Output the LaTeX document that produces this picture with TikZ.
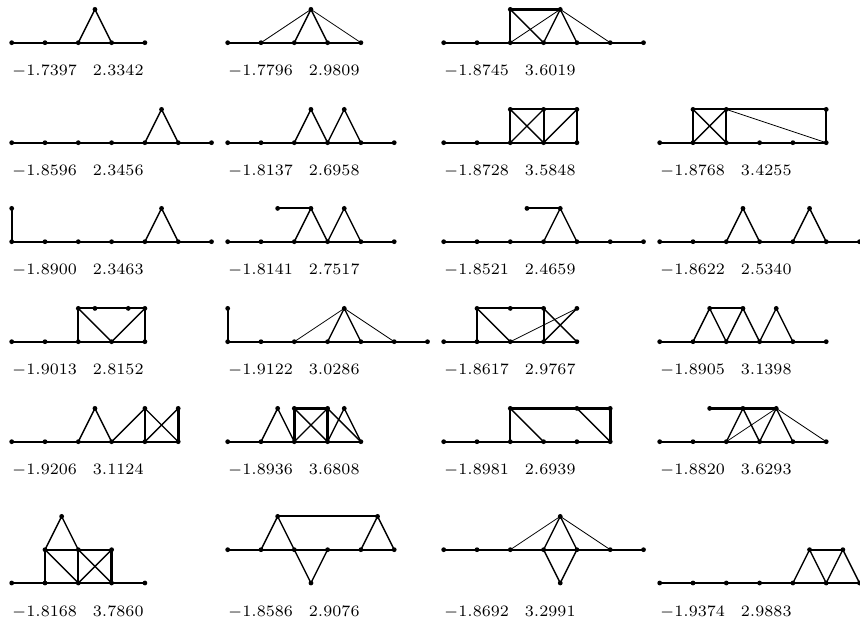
\documentclass[tikz,border=0pt]{standalone}
\begin{document}
\begin{tikzpicture}[
  vx/.style={circle, fill=black, inner sep=0pt, minimum size=4.8bp, outer sep=-2.4bp},
  ebase/.style={line width=1.9bp},
  ediag/.style={line width=1.4bp},
  ethin/.style={line width=0.8bp},
  ethick/.style={line width=2.8bp},
  lab/.style={anchor=base west, inner sep=0pt, scale=2.28, font=\scriptsize},
  pan/.style={x=33.3bp, y=33.3bp}
]
\useasboundingbox (0,0) rectangle (860bp,621bp);

% ---------- Row 1 ----------
\begin{scope}[pan, shift={(11.7bp,578.3bp)}]
  \foreach \k in {0,...,4} \node[vx] (a\k) at (\k,0) {};
  \node[vx] (aT) at (2.5,1) {};
  \draw[ebase] (a0) -- (a4);
  \draw[ediag] (a2) -- (aT) -- (a3);
  \node[lab] (aL) at (0,-1) {$-1.7397\quad 2.3342$};
\end{scope}

\begin{scope}[pan, shift={(227.7bp,578.3bp)}]
  \foreach \k in {0,...,4} \node[vx] (b\k) at (\k,0) {};
  \node[vx] (bT) at (2.5,1) {};
  \draw[ebase] (b0) -- (b4);
  \draw[ethin] (b1) -- (bT) -- (b4);
  \draw[ediag] (b2) -- (bT) -- (b3);
  \node[lab] (bL) at (0,-1) {$-1.7796\quad 2.9809$};
\end{scope}

\begin{scope}[pan, shift={(443.7bp,578.3bp)}]
  \foreach \k in {0,...,6} \node[vx] (c\k) at (\k,0) {};
  \node[vx] (cA) at (2,1) {};
  \node[vx] (cB) at (3.5,1) {};
  \draw[ebase] (c0) -- (c6);
  \draw[ethick] (cA) -- (cB);
  \draw[ebase] (c2) -- (cA);
  \draw[ediag] (cA) -- (c3);
  \draw[ethin] (c2) -- (cB);
  \draw[ediag] (cB) -- (c3);
  \draw[ediag] (cB) -- (c4);
  \draw[ethin] (cB) -- (c5);
  \node[lab] (cL) at (0,-1) {$-1.8745\quad 3.6019$};
\end{scope}

% ---------- Row 2 ----------
\begin{scope}[pan, shift={(11.7bp,478.3bp)}]
  \foreach \k in {0,...,6} \node[vx] (d\k) at (\k,0) {};
  \node[vx] (dT) at (4.5,1) {};
  \draw[ebase] (d0) -- (d6);
  \draw[ediag] (d4) -- (dT) -- (d5);
  \node[lab] (dL) at (0,-1) {$-1.8596\quad 2.3456$};
\end{scope}

\begin{scope}[pan, shift={(227.7bp,478.3bp)}]
  \foreach \k in {0,...,5} \node[vx] (e\k) at (\k,0) {};
  \node[vx] (eA) at (2.5,1) {};
  \node[vx] (eB) at (3.5,1) {};
  \draw[ebase] (e0) -- (e5);
  \draw[ediag] (e2) -- (eA) -- (e3) -- (eB) -- (e4);
  \node[lab] (eL) at (0,-1) {$-1.8137\quad 2.6958$};
\end{scope}

\begin{scope}[pan, shift={(443.7bp,478.3bp)}]
  \foreach \k in {0,...,4} \node[vx] (f\k) at (\k,0) {};
  \node[vx] (fA) at (2,1) {};
  \node[vx] (fB) at (3,1) {};
  \node[vx] (fC) at (4,1) {};
  \draw[ebase] (f0) -- (f4);
  \draw[ebase] (fA) -- (fB) -- (fC);
  \draw[ebase] (f2) -- (fA);
  \draw[ebase] (f3) -- (fB);
  \draw[ebase] (f4) -- (fC);
  \draw[ediag] (fA) -- (f3);
  \draw[ediag] (f2) -- (fB);
  \draw[ediag] (f3) -- (fC);
  \node[lab] (fL) at (0,-1) {$-1.8728\quad 3.5848$};
\end{scope}

\begin{scope}[pan, shift={(659.7bp,478.3bp)}]
  \foreach \k in {0,...,5} \node[vx] (g\k) at (\k,0) {};
  \node[vx] (gA) at (1,1) {};
  \node[vx] (gB) at (2,1) {};
  \node[vx] (gC) at (5,1) {};
  \draw[ebase] (g0) -- (g5);
  \draw[ebase] (gA) -- (gB) -- (gC);
  \draw[ebase] (g1) -- (gA);
  \draw[ebase] (g2) -- (gB);
  \draw[ebase] (g5) -- (gC);
  \draw[ediag] (gA) -- (g2);
  \draw[ediag] (g1) -- (gB);
  \draw[ethin] (gB) -- (g5);
  \node[lab] (gL) at (0,-1) {$-1.8768\quad 3.4255$};
\end{scope}

% ---------- Row 3 ----------
\begin{scope}[pan, shift={(11.7bp,379.3bp)}]
  \foreach \k in {0,...,6} \node[vx] (h\k) at (\k,0) {};
  \node[vx] (hU) at (0,1) {};
  \node[vx] (hT) at (4.5,1) {};
  \draw[ebase] (h0) -- (h6);
  \draw[ebase] (h0) -- (hU);
  \draw[ediag] (h4) -- (hT) -- (h5);
  \node[lab] (hL) at (0,-1) {$-1.8900\quad 2.3463$};
\end{scope}

\begin{scope}[pan, shift={(227.7bp,379.3bp)}]
  \foreach \k in {0,...,5} \node[vx] (i\k) at (\k,0) {};
  \node[vx] (iP) at (1.5,1) {};
  \node[vx] (iA) at (2.5,1) {};
  \node[vx] (iB) at (3.5,1) {};
  \draw[ebase] (i0) -- (i5);
  \draw[ebase] (iP) -- (iA);
  \draw[ediag] (i2) -- (iA) -- (i3) -- (iB) -- (i4);
  \node[lab] (iL) at (0,-1) {$-1.8141\quad 2.7517$};
\end{scope}

\begin{scope}[pan, shift={(443.7bp,379.3bp)}]
  \foreach \k in {0,...,6} \node[vx] (j\k) at (\k,0) {};
  \node[vx] (jP) at (2.5,1) {};
  \node[vx] (jT) at (3.5,1) {};
  \draw[ebase] (j0) -- (j6);
  \draw[ebase] (jP) -- (jT);
  \draw[ediag] (j3) -- (jT) -- (j4);
  \node[lab] (jL) at (0,-1) {$-1.8521\quad 2.4659$};
\end{scope}

\begin{scope}[pan, shift={(659.7bp,379.3bp)}]
  \foreach \k in {0,...,6} \node[vx] (k\k) at (\k,0) {};
  \node[vx] (kA) at (2.5,1) {};
  \node[vx] (kB) at (4.5,1) {};
  \draw[ebase] (k0) -- (k6);
  \draw[ediag] (k2) -- (kA) -- (k3);
  \draw[ediag] (k4) -- (kB) -- (k5);
  \node[lab] (kL) at (0,-1) {$-1.8622\quad 2.5340$};
\end{scope}

% ---------- Row 4 ----------
\begin{scope}[pan, shift={(11.7bp,279.3bp)}]
  \foreach \k in {0,...,4} \node[vx] (l\k) at (\k,0) {};
  \node[vx] (lA) at (2,1) {};
  \node[vx] (lB) at (2.5,1) {};
  \node[vx] (lC) at (3.5,1) {};
  \node[vx] (lD) at (4,1) {};
  \draw[ebase] (l0) -- (l4);
  \draw[ebase] (lA) -- (lB) -- (lC) -- (lD);
  \draw[ebase] (l2) -- (lA);
  \draw[ebase] (l4) -- (lD);
  \draw[ediag] (lA) -- (l3) -- (lD);
  \node[lab] (lL) at (0,-1) {$-1.9013\quad 2.8152$};
\end{scope}

\begin{scope}[pan, shift={(227.7bp,279.3bp)}]
  \foreach \k in {0,...,6} \node[vx] (m\k) at (\k,0) {};
  \node[vx] (mU) at (0,1) {};
  \node[vx] (mT) at (3.5,1) {};
  \draw[ebase] (m0) -- (m6);
  \draw[ebase] (m0) -- (mU);
  \draw[ethin] (m2) -- (mT) -- (m5);
  \draw[ediag] (m3) -- (mT) -- (m4);
  \node[lab] (mL) at (0,-1) {$-1.9122\quad 3.0286$};
\end{scope}

\begin{scope}[pan, shift={(443.7bp,279.3bp)}]
  \foreach \k in {0,...,4} \node[vx] (n\k) at (\k,0) {};
  \node[vx] (nA) at (1,1) {};
  \node[vx] (nB) at (2,1) {};
  \node[vx] (nC) at (3,1) {};
  \node[vx] (nD) at (4,1) {};
  \draw[ebase] (n0) -- (n4);
  \draw[ebase] (nA) -- (nB) -- (nC);
  \draw[ethick] (n1) -- (nA);
  \draw[ebase] (n3) -- (nC);
  \draw[ediag] (nA) -- (n2);
  \draw[ethin] (n2) -- (nD);
  \draw[ediag] (nC) -- (n4);
  \draw[ediag] (n3) -- (nD);
  \node[lab] (nL) at (0,-1) {$-1.8617\quad 2.9767$};
\end{scope}

\begin{scope}[pan, shift={(659.7bp,279.3bp)}]
  \foreach \k in {0,...,5} \node[vx] (o\k) at (\k,0) {};
  \node[vx] (oA) at (1.5,1) {};
  \node[vx] (oB) at (2.5,1) {};
  \node[vx] (oC) at (3.5,1) {};
  \draw[ebase] (o0) -- (o5);
  \draw[ebase] (oA) -- (oB);
  \draw[ediag] (o1) -- (oA) -- (o2) -- (oB) -- (o3) -- (oC) -- (o4);
  \node[lab] (oL) at (0,-1) {$-1.8905\quad 3.1398$};
\end{scope}

% ---------- Row 5 ----------
\begin{scope}[pan, shift={(11.7bp,179.3bp)}]
  \foreach \k in {0,...,5} \node[vx] (p\k) at (\k,0) {};
  \node[vx] (pA) at (2.5,1) {};
  \node[vx] (pB) at (4,1) {};
  \node[vx] (pC) at (5,1) {};
  \draw[ebase] (p0) -- (p5);
  \draw[ediag] (p2) -- (pA) -- (p3) -- (pB);
  \draw[ebase] (p4) -- (pB);
  \draw[ethick] (p5) -- (pC);
  \draw[ediag] (pB) -- (p5);
  \draw[ediag] (p4) -- (pC);
  \node[lab] (pL) at (0,-1) {$-1.9206\quad 3.1124$};
\end{scope}

\begin{scope}[pan, shift={(227.7bp,179.3bp)}]
  \foreach \k in {0,...,4} \node[vx] (q\k) at (\k,0) {};
  \node[vx] (qA) at (1.5,1) {};
  \node[vx] (qB) at (2,1) {};
  \node[vx] (qC) at (3,1) {};
  \node[vx] (qD) at (3.5,1) {};
  \draw[ebase] (q0) -- (q4);
  \draw[ediag] (q1) -- (qA) -- (q2);
  \draw[ethick] (qB) -- (qC);
  \draw[ethick] (q2) -- (qB);
  \draw[ethick] (q3) -- (qC);
  \draw[ediag] (qB) -- (q3);
  \draw[ediag] (q2) -- (qC);
  \draw[ediag] (qC) -- (q4);
  \draw[ediag] (q3) -- (qD) -- (q4);
  \node[lab] (qL) at (0,-1) {$-1.8936\quad 3.6808$};
\end{scope}

\begin{scope}[pan, shift={(443.7bp,179.3bp)}]
  \foreach \k in {0,...,5} \node[vx] (r\k) at (\k,0) {};
  \node[vx] (rA) at (2,1) {};
  \node[vx] (rB) at (4,1) {};
  \node[vx] (rC) at (5,1) {};
  \draw[ebase] (r0) -- (r5);
  \draw[ethick] (rA) -- (rB) -- (rC);
  \draw[ebase] (r2) -- (rA);
  \draw[ethick] (r5) -- (rC);
  \draw[ediag] (rA) -- (r3);
  \draw[ediag] (rB) -- (r5);
  \node[lab] (rL) at (0,-1) {$-1.8981\quad 2.6939$};
\end{scope}

\begin{scope}[pan, shift={(659.7bp,179.3bp)}]
  \foreach \k in {0,...,5} \node[vx] (s\k) at (\k,0) {};
  \node[vx] (sA) at (1.5,1) {};
  \node[vx] (sB) at (2.5,1) {};
  \node[vx] (sC) at (3.5,1) {};
  \draw[ebase] (s0) -- (s5);
  \draw[ethick] (sA) -- (sB) -- (sC);
  \draw[ediag] (s2) -- (sB) -- (s3);
  \draw[ethin] (s2) -- (sC) -- (s5);
  \draw[ediag] (s3) -- (sC) -- (s4);
  \node[lab] (sL) at (0,-1) {$-1.8820\quad 3.6293$};
\end{scope}

% ---------- Row 6 ----------
\begin{scope}[pan, shift={(11.7bp,38bp)}]
  \foreach \k in {0,...,4} \node[vx] (t\k) at (\k,0) {};
  \node[vx] (tA) at (1,1) {};
  \node[vx] (tB) at (2,1) {};
  \node[vx] (tC) at (3,1) {};
  \node[vx] (tT) at (1.5,2) {};
  \draw[ebase] (t0) -- (t4);
  \draw[ebase] (tA) -- (tB) -- (tC);
  \draw[ebase] (t1) -- (tA);
  \draw[ebase] (t2) -- (tB);
  \draw[ethick] (t3) -- (tC);
  \draw[ediag] (tA) -- (t2);
  \draw[ediag] (tB) -- (t3);
  \draw[ediag] (t2) -- (tC);
  \draw[ediag] (tA) -- (tT) -- (tB);
  \node[lab] (tL) at (0,-1) {$-1.8168\quad 3.7860$};
\end{scope}

\begin{scope}[pan, shift={(227.7bp,38bp)}]
  \foreach \k in {0,...,5} \node[vx] (u\k) at (\k,1) {};
  \node[vx] (uA) at (1.5,2) {};
  \node[vx] (uB) at (4.5,2) {};
  \node[vx] (uD) at (2.5,0) {};
  \draw[ebase] (u0) -- (u5);
  \draw[ebase] (uA) -- (uB);
  \draw[ediag] (u1) -- (uA) -- (u2);
  \draw[ediag] (u4) -- (uB) -- (u5);
  \draw[ediag] (u2) -- (uD) -- (u3);
  \node[lab] (uL) at (0,-1) {$-1.8586\quad 2.9076$};
\end{scope}

\begin{scope}[pan, shift={(443.7bp,38bp)}]
  \foreach \k in {0,...,6} \node[vx] (w\k) at (\k,1) {};
  \node[vx] (wT) at (3.5,2) {};
  \node[vx] (wD) at (3.5,0) {};
  \draw[ebase] (w0) -- (w6);
  \draw[ethin] (w2) -- (wT) -- (w5);
  \draw[ediag] (w3) -- (wT) -- (w4);
  \draw[ediag] (w3) -- (wD) -- (w4);
  \node[lab] (wL) at (0,-1) {$-1.8692\quad 3.2991$};
\end{scope}

\begin{scope}[pan, shift={(659.7bp,38bp)}]
  \foreach \k in {0,...,6} \node[vx] (x\k) at (\k,0) {};
  \node[vx] (xA) at (4.5,1) {};
  \node[vx] (xB) at (5.5,1) {};
  \draw[ebase] (x0) -- (x6);
  \draw[ebase] (xA) -- (xB);
  \draw[ediag] (x4) -- (xA) -- (x5) -- (xB) -- (x6);
  \node[lab] (xL) at (0,-1) {$-1.9374\quad 2.9883$};
\end{scope}
\end{tikzpicture}
\end{document}
